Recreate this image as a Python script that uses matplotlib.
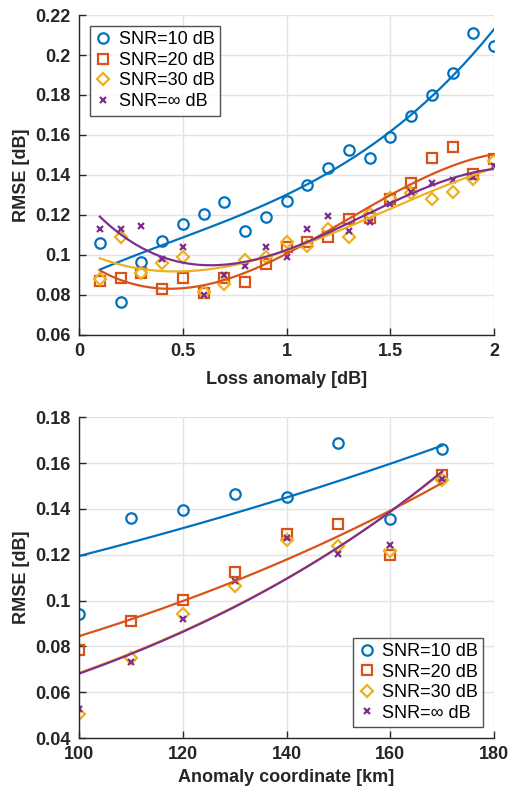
import numpy as np
import matplotlib.pyplot as plt
from matplotlib.ticker import FuncFormatter

plt.rcParams['font.family'] = ['Liberation Sans', 'DejaVu Sans']

# loss anomaly sweep (top panel)
loss = [0.1, 0.2, 0.3, 0.4, 0.5, 0.6, 0.7, 0.8, 0.9, 1.0,
        1.1, 1.2, 1.3, 1.4, 1.5, 1.6, 1.7, 1.8, 1.9, 2.0]
loss_snr10 = [0.1058, 0.0765, 0.0965, 0.1072, 0.1155, 0.1207, 0.1267, 0.1120, 0.1190, 0.1268,
              0.1348, 0.1437, 0.1525, 0.1487, 0.1590, 0.1695, 0.1800, 0.1912, 0.2108, 0.2047]
loss_snr20 = [0.0870, 0.0883, 0.0912, 0.0830, 0.0883, 0.0808, 0.0883, 0.0863, 0.0953, 0.1042,
              0.1067, 0.1088, 0.1180, 0.1185, 0.1280, 0.1362, 0.1483, 0.1540, 0.1407, 0.1478]
loss_snr30 = [0.0878, 0.1092, 0.0912, 0.0962, 0.0992, 0.0813, 0.0853, 0.0975, 0.0992, 0.1067,
              0.1045, 0.1128, 0.1092, 0.1207, 0.1287, 0.1312, 0.1278, 0.1313, 0.1382, 0.1468]
loss_snrinf = [0.1128, 0.1128, 0.1147, 0.0978, 0.1038, 0.0802, 0.0900, 0.0947, 0.1040, 0.0988,
               0.1132, 0.1193, 0.1122, 0.1167, 0.1253, 0.1313, 0.1362, 0.1375, 0.1392, 0.1447]

# anomaly position sweep (bottom panel)
coord = [100, 110, 120, 130, 140, 150, 160, 170]
coord_snr10 = [0.0943, 0.1359, 0.1397, 0.1464, 0.1454, 0.1689, 0.1355, 0.1663]
coord_snr20 = [0.0785, 0.0910, 0.1001, 0.1124, 0.1289, 0.1333, 0.1198, 0.1547]
coord_snr30 = [0.0507, 0.0751, 0.0943, 0.1064, 0.1265, 0.1240, 0.1218, 0.1527]
coord_snrinf = [0.0527, 0.0732, 0.0920, 0.1086, 0.1272, 0.1202, 0.1244, 0.1529]

labels = ['SNR=10 dB', 'SNR=20 dB', 'SNR=30 dB', 'SNR=\u221e dB']
colors = ['#0072BD', '#D95319', '#EDB120', '#7E2F8E']
markers = ['o', 's', 'D', 'x']
msizes = [7.5, 6.5, 6.5, 5]

fmt = FuncFormatter(lambda v, _: '%g' % round(v, 3))


def style_axes(ax):
    ax.grid(True, color='#e3e3e3', linewidth=1)
    ax.set_axisbelow(True)
    for side in ['top', 'right']:
        ax.spines[side].set_visible(False)
    for side in ['left', 'bottom']:
        ax.spines[side].set_color('#262626')
        ax.spines[side].set_linewidth(1)
    ax.tick_params(direction='in', length=5, width=1, colors='#262626',
                   labelsize=13, pad=6)
    for lab in ax.get_xticklabels() + ax.get_yticklabels():
        lab.set_fontweight('bold')


def add_legend(ax, loc):
    leg = ax.legend(loc=loc, fontsize=13, frameon=True, fancybox=False,
                    edgecolor='#262626', handlelength=0.9, handletextpad=0.4,
                    borderpad=0.3, labelspacing=0.2, borderaxespad=0.6)
    leg.get_frame().set_linewidth(1)


def draw_points(ax, x, series):
    for ys, c, m, ms, lab in zip(series, colors, markers, msizes, labels):
        ax.plot(x, ys, linestyle='none', marker=m, markersize=ms,
                markerfacecolor='none', markeredgecolor=c, markeredgewidth=1.6,
                label=lab)


fig = plt.figure(figsize=(5.13, 7.90), dpi=100)

# top panel: cubic trend of RMSE vs loss anomaly
ax1 = fig.add_axes([0.154, 0.576, 0.809, 0.405])
x = np.array(loss)
xf = np.linspace(x.min(), x.max(), 200)
series = [loss_snr10, loss_snr20, loss_snr30, loss_snrinf]
draw_points(ax1, x, series)
for ys, c in zip(series, colors):
    p = np.polyfit(x, ys, 3)
    ax1.plot(xf, np.polyval(p, xf), color=c, linewidth=1.6)
ax1.set_xlim(0, 2)
ax1.set_ylim(0.06, 0.22)
ax1.set_xticks([0, 0.5, 1, 1.5, 2])
ax1.set_yticks(np.arange(0.06, 0.2201, 0.02))
ax1.xaxis.set_major_formatter(fmt)
ax1.yaxis.set_major_formatter(fmt)
ax1.set_xlabel('Loss anomaly [dB]', fontsize=13, fontweight='bold',
               color='#262626', labelpad=8)
ax1.set_ylabel('RMSE [dB]', fontsize=13, fontweight='bold', color='#262626')
style_axes(ax1)
add_legend(ax1, 'upper left')

# bottom panel: exponential trend of RMSE vs anomaly coordinate
ax2 = fig.add_axes([0.154, 0.0658, 0.809, 0.406])
x = np.array(coord, dtype=float)
xf = np.linspace(x.min(), x.max(), 200)
series = [coord_snr10, coord_snr20, coord_snr30, coord_snrinf]
draw_points(ax2, x, series)
for ys, c in zip(series, colors):
    ys = np.array(ys)
    p = np.polyfit(x, np.log(ys), 1, w=np.sqrt(ys))
    ax2.plot(xf, np.exp(np.polyval(p, xf)), color=c, linewidth=1.6)
ax2.set_xlim(100, 180)
ax2.set_ylim(0.04, 0.18)
ax2.set_xticks([100, 120, 140, 160, 180])
ax2.set_yticks(np.arange(0.04, 0.1801, 0.02))
ax2.yaxis.set_major_formatter(fmt)
ax2.set_xlabel('Anomaly coordinate [km]', fontsize=13, fontweight='bold',
               color='#262626')
ax2.set_ylabel('RMSE [dB]', fontsize=13, fontweight='bold', color='#262626')
style_axes(ax2)
add_legend(ax2, 'lower right')

plt.savefig('out.png', dpi=100)
